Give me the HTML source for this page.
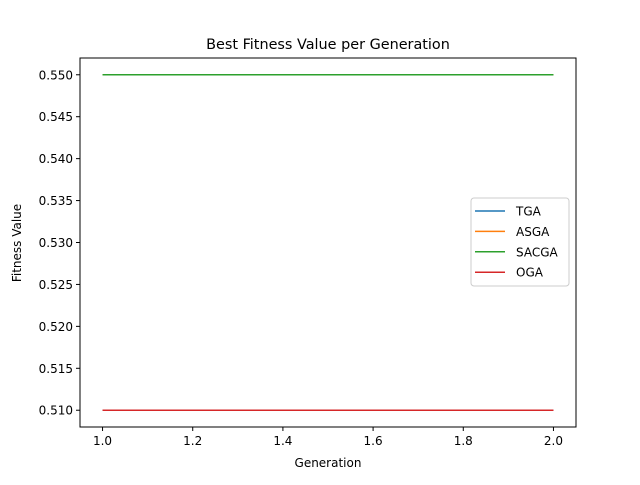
<!DOCTYPE html>
<html><head><meta charset="utf-8"><style>
body{margin:0;background:#fff}
svg text{font-family:"DejaVu Sans","Liberation Sans",sans-serif;fill:#000}
</style></head><body>
<svg id="chart" width="640" height="480" viewBox="0 0 640 480">
<rect width="640" height="480" fill="#fff"/>
<text x="328" y="49" font-size="14.4" text-anchor="middle">Best Fitness Value per Generation</text>
<g id="marks"></g>
<rect x="80" y="58" width="496" height="369" fill="none" stroke="#000" stroke-width="1"/>
<g id="ticks"></g>
<text x="328" y="467" font-size="12" text-anchor="middle">Generation</text>
<text transform="translate(21,243) rotate(-90)" font-size="12" text-anchor="middle">Fitness Value</text>
<g id="legend"></g>
</svg>
<script>
const generations=[1,2];
const seriesNames=["TGA","ASGA","SACGA","OGA"];
const tgaValues=[0.51,0.51];
const asgaValues=[0.55,0.55];
const sacgaValues=[0.55,0.55];
const ogaValues=[0.51,0.51];
const xTicks=[1.0,1.2,1.4,1.6,1.8,2.0];
const yTicks=[0.510,0.515,0.520,0.525,0.530,0.535,0.540,0.545,0.550];
const colors=["#1f77b4","#ff7f0e","#2ca02c","#d62728"];
const allSeries=[tgaValues,asgaValues,sacgaValues,ogaValues];

const NS="http://www.w3.org/2000/svg";
const L=80,R=576,T=58,B=427;
const xmin=0.95,xmax=2.05,ymin=0.508,ymax=0.552;
const xs=v=>L+(v-xmin)/(xmax-xmin)*(R-L);
const ys=v=>B-(v-ymin)/(ymax-ymin)*(B-T);
function mk(tag,attrs,parent){const e=document.createElementNS(NS,tag);for(const k in attrs)e.setAttribute(k,attrs[k]);parent.appendChild(e);return e;}
const marks=document.getElementById("marks");
allSeries.forEach((s,i)=>{
  const p=mk("polyline",{points:s.map((v,j)=>xs(generations[j])+","+ys(v)).join(" "),fill:"none",stroke:colors[i],"stroke-width":1.5},marks);
  
  
});
const tk=document.getElementById("ticks");
xTicks.forEach(v=>{
  const x=xs(v);
  const l=mk("line",{x1:x,x2:x,y1:B,y2:B+4,stroke:"#000"},tk);
  
  
  const t=mk("text",{x:x,y:B+18,"font-size":12,"text-anchor":"middle"},tk);
  t.textContent=v.toFixed(1);
  
  
});
yTicks.forEach(v=>{
  const y=ys(v);
  const l=mk("line",{x1:L-4,x2:L,y1:y,y2:y,stroke:"#000"},tk);
  
  
  const t=mk("text",{x:L-7,y:y+4.5,"font-size":12,"text-anchor":"end"},tk);
  t.textContent=v.toFixed(3);
  
  
});
const lg=document.getElementById("legend");
const box=mk("rect",{x:471,y:198,width:98,height:88,rx:3,fill:"#fff",stroke:"#ccc"},lg);


seriesNames.forEach((n,i)=>{
  const y=211+i*20.4;
  const l=mk("line",{x1:475,x2:505,y1:y,y2:y,stroke:colors[i],"stroke-width":1.5},lg);
  
  
  const t=mk("text",{x:516,y:y+4.5,"font-size":12},lg);
  t.textContent=n;
  
  
});
</script>
</body></html>
